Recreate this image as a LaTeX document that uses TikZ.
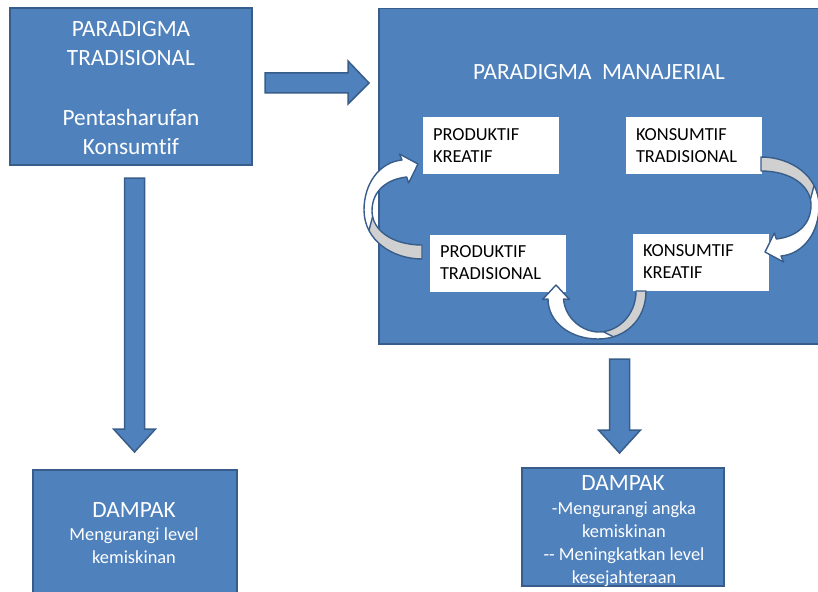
\documentclass[tikz,border=0pt]{standalone}
\usepackage{fontspec}
\setmainfont{Carlito}[Ligatures={NoCommon}]
\usetikzlibrary{calc}

\definecolor{boxblue}{HTML}{4F81BD}
\definecolor{boxedge}{HTML}{385D8A}
\definecolor{backgray}{HTML}{D0D0D0}

\tikzset{
  bluebox/.style={draw=boxedge, line width=1.5pt, fill=boxblue, inner sep=0pt},
  whitebox/.style={fill=white, text=black, text width=116pt, align=left,
    minimum height=57pt, inner xsep=10pt, inner ysep=0pt,
    font=\fontsize{18.4}{22}\selectfont},
  blockarrow/.style={draw=boxedge, line width=1.5pt, fill=boxblue, line join=miter},
  twist/.style={draw=boxedge, line width=1.4pt, line join=round},
  bigtext/.style={font=\fontsize{23.3}{29.7}\selectfont, text=white, align=center, inner sep=0pt},
  smalltext/.style={font=\fontsize{18.4}{22.9}\selectfont, text=white, align=center, inner sep=0pt},
}

% outline of a curved ribbon arrow, centre of its ellipse at the origin (y grows downward)
\newcommand\twistpath{(2,51) .. controls (-28,51) and (-56,32) .. (-56,2)
  .. controls (-56,-25) and (-40,-46) .. (-18,-48) -- (-20.6,-54) -- (-2,-44)
  -- (-11.4,-25) -- (-13.3,-31) .. controls (-32,-29) and (-48,-18) .. (-48,3)
  .. controls (-48,22) and (-28,37) .. (2,37) -- cycle}

% white front face with a grey back face near the tail
\newcommand\twistarrow{%
  \path[fill=white] \twistpath;
  \begin{scope}
    \clip \twistpath;
    \fill[backgray] (-44.6,-2) -- (-55.6,40) -- (-70,70) -- (30,70) -- (30,-2) -- cycle;
  \end{scope}
  \draw[twist] \twistpath;
  \draw[twist] (-47.4,8.6) -- (-51,22.3);
}

% U-turn ribbon arrow under the middle of the managerial box
\newcommand\uturnpath{(646,291) .. controls (646,320) and (625,339) .. (598,339)
  .. controls (570,339) and (548,322) .. (548,299) -- (542.5,299.5) -- (556,285)
  -- (569.5,299.5) -- (563.5,299) .. controls (565,318) and (582,332) .. (599,332)
  .. controls (617,332) and (636,316) .. (636,291) -- cycle}

% vertical block arrow from #1 down to the tip #2
\newcommand\downblock[2]{%
  \draw[blockarrow] ($(#1)+(-10,0)$) -- ($(#2)+(-10,-23)$) -- ($(#2)+(-21,-23)$)
    -- (#2) -- ($(#2)+(21,-23)$) -- ($(#2)+(10,-23)$) -- ($(#1)+(10,0)$) -- cycle;
}

\begin{document}
\begin{tikzpicture}[x=1pt,y=-1pt]
\useasboundingbox (0,0) rectangle (818,591);
\clip (0,0) rectangle (818,591);

% traditional paradigm
\node[bluebox, minimum width=242pt, minimum height=157pt] (trad) at (131,86.5) {};
\node[bigtext] (tradtxt) at (131,88)
  {PARADIGMA\\TRADISIONAL\\[29.7pt]Pentasharufan\\Konsumtif};

% managerial paradigm
\node[bluebox, minimum width=460pt, minimum height=335pt, anchor=north west] (manaj) at (378,8) {};
\node[bigtext] (manajtxt) at (599,72) {PARADIGMA\ \ MANAJERIAL};

% arrow between the two paradigms
\coordinate (ra1) at (265,83);
\coordinate (ra2) at (369,83);
\draw[blockarrow] ($(ra1)+(0,-10)$) -- ($(ra2)+(-21,-10)$) -- ($(ra2)+(-21,-22)$)
  -- (ra2) -- ($(ra2)+(-21,21)$) -- ($(ra2)+(-21,10)$) -- ($(ra1)+(0,10)$) -- cycle;

\node[whitebox] (pk) at (491,145.5) {PRODUKTIF\\KREATIF};
\node[whitebox] (pt) at (498,263) {PRODUKTIF\\TRADISIONAL};
\node[whitebox] (kt) at (694,145.5) {KONSUMTIF\\TRADISIONAL};
\node[whitebox] (kk) at (701,262) {KONSUMTIF\\KREATIF};

% cycle of curved arrows between the four boxes
\begin{scope}[shift={(420,208)}] \twistarrow \end{scope}
\begin{scope}[shift={(763,208)}, rotate=180] \twistarrow \end{scope}
\path[fill=white] \uturnpath;
\begin{scope}
  \clip \uturnpath;
  \fill[backgray] (593.2,326.6) -- (623.5,341.9) -- (660,350) -- (660,280) -- (596,280) -- cycle;
\end{scope}
\draw[twist] \uturnpath;
\draw[twist] (603.3,331.7) -- (613.4,336.8);

% arrows down to the impacts
\coordinate (dl1) at (134.5,178);
\coordinate (dl2) at (134.5,452);
\downblock{dl1}{dl2}
\coordinate (dr1) at (619.5,359);
\coordinate (dr2) at (619.5,453);
\downblock{dr1}{dr2}

% impact of the traditional paradigm
\node[bluebox, minimum width=204pt, minimum height=150pt, anchor=north west] (dl) at (32,469) {};
\node[bigtext] (dlhead) at (134,510) {DAMPAK};
\node[smalltext] (dlbody) at (134,546) {Mengurangi level\\kemiskinan};

% impact of the managerial paradigm
\node[bluebox, minimum width=202pt, minimum height=118pt, anchor=north west] (dr) at (521,467) {};
\node[bigtext] (drhead) at (623,483) {DAMPAK};
\node[smalltext] (drbody) at (624,544)
  {-Mengurangi angka\\kemiskinan\\-{}- Meningkatkan level\\kesejahteraan};
\end{tikzpicture}
\end{document}
